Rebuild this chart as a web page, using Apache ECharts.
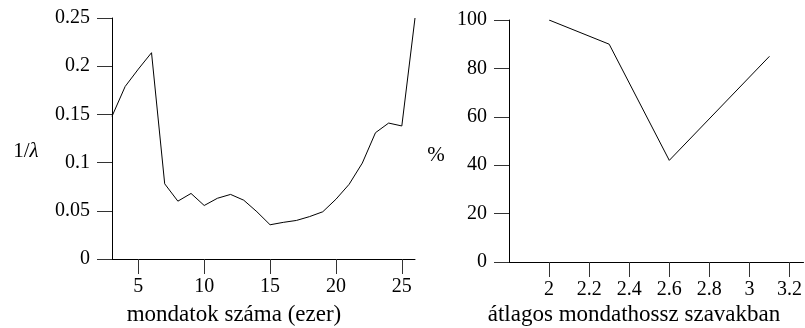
<!DOCTYPE html>
<html>
<head>
<meta charset="utf-8">
<script src="https://cdn.jsdelivr.net/npm/echarts@6/dist/echarts.min.js"></script>
<style>
  html, body { margin: 0; padding: 0; background: #fff; }
  #main { width: 805px; height: 328px; }
</style>
</head>
<body>
<div id="main"></div>
<script>
// left panel: 1/lambda vs. number of sentences (thousands)
var sentenceCounts = [3, 4, 5, 6, 7, 8, 9, 10, 11, 12, 13, 14, 15, 16, 17, 18, 19, 20, 21, 22, 23, 24, 25, 26]
var inverseLambda = [0.148, 0.179, 0.197, 0.214, 0.078, 0.060, 0.068, 0.0555, 0.063, 0.067, 0.061, 0.049,
    0.0355, 0.038, 0.040, 0.044, 0.049, 0.062, 0.0775, 0.0995, 0.131, 0.141, 0.138, 0.25]
var leftXTicks = [5, 10, 15, 20, 25]

// right panel: percent vs. average sentence length in words
var sentenceLengths = [2, 2.3, 2.6, 3.1]
var percentValues = [100, 90, 42, 85]
var rightXTicks = [2, 2.2, 2.4, 2.6, 2.8, 3, 3.2]

var font = '"Liberation Serif", "DejaVu Serif", serif'
var ink = '#000'

function pairs(xs, ys) {
    return xs.map(function (x, i) { return [x, ys[i]] })
}

var chart = echarts.init(document.getElementById('main'))

var axisCommon = {
    axisLine: {show: true, onZero: false, lineStyle: {color: ink, width: 1}},
    axisTick: {show: true, inside: false, length: 15, lineStyle: {color: '#333', width: 1}},
    splitLine: {show: false},
    axisLabel: {color: ink, fontFamily: font, fontSize: 20}
}

function xAxis(grid, min, max, ticks) {
    return Object.assign({}, axisCommon, {
        type: 'value', gridIndex: grid, min: min, max: max,
        axisTick: Object.assign({}, axisCommon.axisTick, {customValues: ticks}),
        axisLabel: Object.assign({}, axisCommon.axisLabel, {customValues: ticks, margin: 18})
    })
}

function yAxis(grid, max, interval) {
    return Object.assign({}, axisCommon, {
        type: 'value', gridIndex: grid, min: 0, max: max, interval: interval,
        axisLabel: Object.assign({}, axisCommon.axisLabel, {margin: 22})
    })
}

var option = {
    animation: false,
    backgroundColor: '#fff',
    grid: [
        {left: 112, top: 18, right: 390, bottom: 69},
        {left: 509, top: 20, right: 0, bottom: 66}
    ],
    xAxis: [
        xAxis(0, 3, 26, leftXTicks),
        xAxis(1, 1.8, 3.27, rightXTicks)
    ],
    yAxis: [
        yAxis(0, 0.25, 0.05),
        yAxis(1, 100, 20)
    ],
    graphic: [
        {
            type: 'text', x: 26, y: 151,
            style: {
                text: '1/{i|λ}', font: '21px ' + font, fill: ink, align: 'center', verticalAlign: 'middle',
                rich: {i: {fontStyle: 'italic', fontFamily: font, fontSize: 21, fill: ink}}
            }
        },
        {type: 'text', x: 436, y: 155, style: {text: '%', font: '21px ' + font, fill: ink, align: 'center', verticalAlign: 'middle'}},
        {type: 'text', x: 234, y: 315, style: {text: 'mondatok száma (ezer)', font: '23px ' + font, fill: ink, align: 'center', verticalAlign: 'middle'}},
        {type: 'text', x: 634, y: 315, style: {text: 'átlagos mondathossz szavakban', font: '23px ' + font, fill: ink, align: 'center', verticalAlign: 'middle'}}
    ],
    series: [
        {
            type: 'line', xAxisIndex: 0, yAxisIndex: 0,
            data: pairs(sentenceCounts, inverseLambda),
            showSymbol: false, lineStyle: {color: ink, width: 1}
        },
        {
            type: 'line', xAxisIndex: 1, yAxisIndex: 1,
            data: pairs(sentenceLengths, percentValues),
            showSymbol: false, lineStyle: {color: ink, width: 1}
        }
    ]
}

chart.setOption(option)
</script>
</body>
</html>
